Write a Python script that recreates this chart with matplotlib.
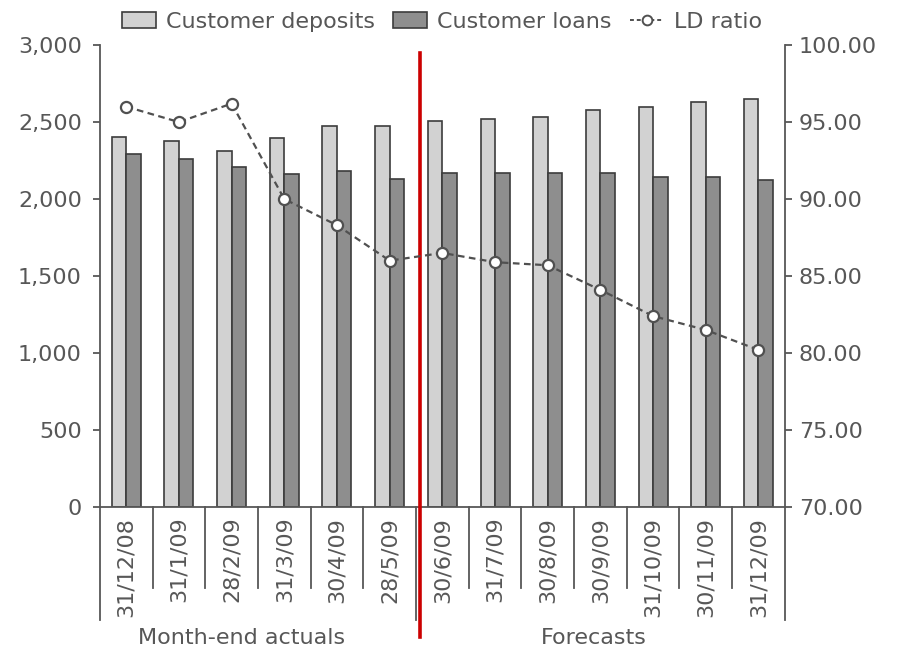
import matplotlib
matplotlib.use("Agg")
import matplotlib.pyplot as plt
import matplotlib.transforms as mtransforms
from matplotlib.patches import Patch
from matplotlib.lines import Line2D
from matplotlib.ticker import FuncFormatter
import numpy as np

# Data
dates = ["31/12/08", "31/1/09", "28/2/09", "31/3/09", "30/4/09", "28/5/09",
         "30/6/09", "31/7/09", "30/8/09", "30/9/09", "31/10/09", "30/11/09", "31/12/09"]
deposits = [2400, 2380, 2310, 2395, 2475, 2475, 2510, 2520, 2530, 2580, 2600, 2630, 2650]
loans = [2290, 2260, 2210, 2160, 2180, 2130, 2170, 2170, 2170, 2170, 2140, 2140, 2125]
ld_ratio = [96.0, 95.0, 96.2, 90.0, 88.3, 86.0, 86.5, 85.9, 85.7, 84.1, 82.4, 81.5, 80.2]
n_actuals = 6

plt.rcParams['font.family'] = ['DejaVu Sans']
fs = 16
text_col = '#575757'
edge_col = '#3c3c3c'
light_col = '#d2d2d2'
dark_col = '#8e8e8e'

fig = plt.figure(figsize=(9, 6.63), dpi=100)
ax = fig.add_axes([0.111, 0.2353, 0.761, 0.6967])
ax2 = ax.twinx()

x = np.arange(len(dates))
w = 0.275
ax.bar(x - w / 2, deposits, w, color=light_col, edgecolor=edge_col, linewidth=1.2, zorder=2)
ax.bar(x + w / 2, loans, w, color=dark_col, edgecolor=edge_col, linewidth=1.2, zorder=2)

ax2.plot(x, ld_ratio, linestyle=(0, (3, 2)), color='#505050', linewidth=1.6,
         marker='o', markersize=8, markerfacecolor='white', markeredgecolor='#505050',
         markeredgewidth=1.6, zorder=3)

ax.set_xlim(-0.5, len(dates) - 0.5)
ax.set_ylim(0, 3000)
ax2.set_ylim(70, 100)
ax.set_yticks(np.arange(0, 3001, 500))
ax2.set_yticks(np.arange(70, 101, 5))
ax.yaxis.set_major_formatter(FuncFormatter(lambda v, p: f"{int(v):,}"))
ax2.yaxis.set_major_formatter(FuncFormatter(lambda v, p: f"{v:.2f}"))

for a in (ax, ax2):
    a.spines['top'].set_visible(False)
    for s in a.spines.values():
        s.set_color(text_col)
        s.set_linewidth(1.3)
    a.tick_params(axis='y', colors=text_col, labelsize=fs, length=5, width=1.3)
ax.tick_params(axis='y', pad=8)
ax2.tick_params(axis='y', pad=5)
ax2.spines['left'].set_visible(False)
ax.spines['right'].set_visible(False)
ax2.spines['bottom'].set_visible(False)

ax.set_xticks(x)
ax.set_xticklabels(dates, rotation=90, fontsize=fs, color=text_col)
ax.tick_params(axis='x', length=0, pad=7)

# group separators below the axis
trans = mtransforms.blended_transform_factory(ax.transData, ax.transAxes)
for b in np.arange(-0.5, len(dates), 1.0):
    long_line = b in (-0.5, n_actuals - 0.5, len(dates) - 0.5)
    ax.plot([b, b], [0, -0.245 if long_line else -0.175], color=text_col,
            linewidth=1.3, transform=trans, clip_on=False)

# red divider between actuals and forecasts
ax.plot([n_actuals - 0.42, n_actuals - 0.42], [0.983, -0.281], color='#cc0000',
        linewidth=2.6, transform=trans, clip_on=False, zorder=5)

ax.text(2.19, -0.284, "Month-end actuals", transform=trans, ha='center', va='center',
        fontsize=fs, color=text_col)
ax.text(8.87, -0.284, "Forecasts", transform=trans, ha='center', va='center',
        fontsize=fs, color=text_col)

handles = [Patch(facecolor=light_col, edgecolor=edge_col, linewidth=1.2),
           Patch(facecolor=dark_col, edgecolor=edge_col, linewidth=1.2),
           Line2D([], [], linestyle=(0, (2, 1.5)), color='#505050', linewidth=1.4,
                  marker='o', markersize=7, markerfacecolor='white',
                  markeredgecolor='#505050', markeredgewidth=1.4)]
leg = fig.legend(handles, ["Customer deposits", "Customer loans", "LD ratio"],
                 loc='upper center', bbox_to_anchor=(0.491, 1.012), ncol=3, frameon=False,
                 fontsize=fs, handlelength=1.55, handletextpad=0.45, columnspacing=0.8,
                 labelcolor=text_col)

fig.savefig("out.png", dpi=100)
